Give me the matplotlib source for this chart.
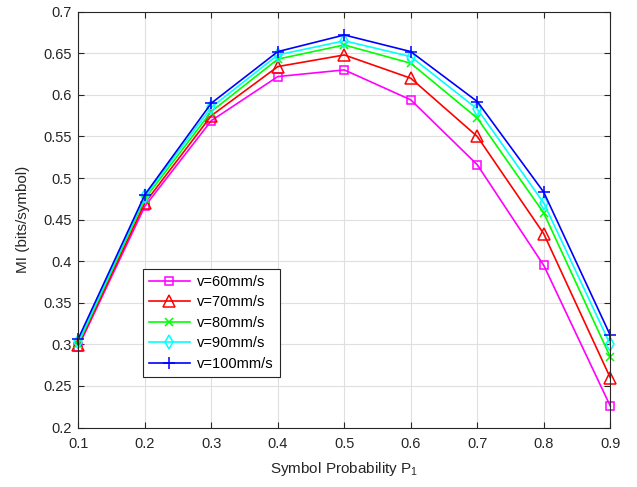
import numpy as np
import matplotlib
matplotlib.use('Agg')
import matplotlib.pyplot as plt
from matplotlib.ticker import FormatStrFormatter

plt.rcParams['font.family'] = ['Liberation Sans', 'DejaVu Sans']
plt.rcParams['mathtext.default'] = 'regular'

# symbol probability
p1 = [0.1, 0.2, 0.3, 0.4, 0.5, 0.6, 0.7, 0.8, 0.9]

# mutual information for each speed
mi_60 = [0.297, 0.466, 0.569, 0.622, 0.630, 0.594, 0.516, 0.395, 0.226]
mi_70 = [0.299, 0.470, 0.575, 0.634, 0.648, 0.620, 0.550, 0.433, 0.260]
mi_80 = [0.301, 0.475, 0.580, 0.643, 0.660, 0.638, 0.572, 0.458, 0.285]
mi_90 = [0.303, 0.478, 0.585, 0.648, 0.665, 0.646, 0.583, 0.470, 0.300]
mi_100 = [0.307, 0.480, 0.590, 0.652, 0.672, 0.652, 0.592, 0.483, 0.311]

labels = ['v=60mm/s', 'v=70mm/s', 'v=80mm/s', 'v=90mm/s', 'v=100mm/s']
series = [mi_60, mi_70, mi_80, mi_90, mi_100]
colors = ['#ff00ff', '#ff0000', '#00ff00', '#00ffff', '#0000ff']
markers = ['s', '^', 'x', 'd', '+']
msizes = [6, 8, 6, 7, 9]

fig = plt.figure(figsize=(6.37, 4.87), dpi=100)
ax = fig.add_axes([0.123, 0.122, 0.835, 0.854])

for y, lab, c, m, ms in zip(series, labels, colors, markers, msizes):
    ax.plot(p1, y, color=c, marker=m, markersize=ms, markerfacecolor='none',
            markeredgewidth=1.1, linewidth=1.2, label=lab, clip_on=False)

ax.set_xlim(0.1, 0.9)
ax.set_ylim(0.2, 0.7)
ax.set_xticks(np.arange(0.1, 0.91, 0.1))
ax.set_yticks(np.arange(0.2, 0.701, 0.05))
ax.xaxis.set_major_formatter(FormatStrFormatter('%g'))
ax.yaxis.set_major_formatter(FormatStrFormatter('%g'))
ax.tick_params(direction='in', top=True, right=True, labelsize=10.5, colors='#262626', length=4)
ax.tick_params(axis='x', pad=7)
ax.tick_params(axis='y', pad=5)
for s in ax.spines.values():
    s.set_color('#262626')
ax.grid(True, color='#dfdfdf', linewidth=0.8)
ax.set_axisbelow(True)

ax.set_xlabel('Symbol Probability P$_1$', fontsize=11, color='#262626', labelpad=6)
ax.set_ylabel('MI (bits/symbol)', fontsize=11, color='#262626', labelpad=9)

leg = ax.legend(loc='lower left', bbox_to_anchor=(0.122, 0.122), fontsize=10.5,
                fancybox=False, edgecolor='#262626', framealpha=1,
                handlelength=2.8, handletextpad=0.5, borderaxespad=0,
                labelspacing=0.45)
leg.get_frame().set_linewidth(0.8)

plt.savefig('out.png', dpi=100)
